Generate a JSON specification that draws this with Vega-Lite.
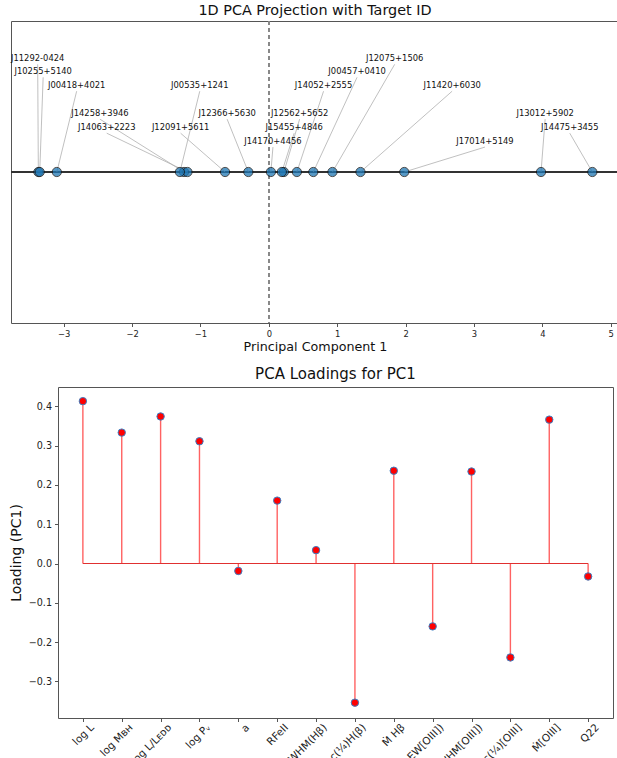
{
  "$schema": "https://vega.github.io/schema/vega-lite/v6.json",
  "padding": {"left": 8, "top": 2, "right": 0, "bottom": 0},
  "background": "white",
  "config": {
    "font": "DejaVu Sans",
    "view": {"stroke": "#555", "strokeWidth": 1},
    "axis": {"grid": false, "domain": false, "tickColor": "#555", "tickSize": 3.5, "labelColor": "#222", "titleColor": "#111", "titleFontWeight": "normal"},
    "title": {"fontWeight": "normal", "color": "#111"}
  },
  "datasets": {
    "proj": [
      {"id": "J11292-0424", "pc1": -3.37, "label_x": -3.38, "label_y": 0.713},
      {"id": "J10255+5140", "pc1": -3.35, "label_x": -3.30, "label_y": 0.627},
      {"id": "J00418+4021", "pc1": -3.10, "label_x": -2.81, "label_y": 0.535},
      {"id": "J14258+3946", "pc1": -1.24, "label_x": -2.47, "label_y": 0.350},
      {"id": "J14063+2223", "pc1": -1.19, "label_x": -2.37, "label_y": 0.257},
      {"id": "J00535+1241", "pc1": -1.30, "label_x": -1.01, "label_y": 0.535},
      {"id": "J12091+5611", "pc1": -0.64, "label_x": -1.29, "label_y": 0.257},
      {"id": "J12366+5630", "pc1": -0.30, "label_x": -0.61, "label_y": 0.350},
      {"id": "J14170+4456", "pc1": 0.03, "label_x": 0.06, "label_y": 0.165},
      {"id": "J12562+5652", "pc1": 0.22, "label_x": 0.45, "label_y": 0.350},
      {"id": "J15455+4846", "pc1": 0.19, "label_x": 0.37, "label_y": 0.257},
      {"id": "J14052+2555", "pc1": 0.41, "label_x": 0.80, "label_y": 0.535},
      {"id": "J00457+0410", "pc1": 0.65, "label_x": 1.29, "label_y": 0.627},
      {"id": "J12075+1506", "pc1": 0.93, "label_x": 1.84, "label_y": 0.713},
      {"id": "J11420+6030", "pc1": 1.34, "label_x": 2.68, "label_y": 0.535},
      {"id": "J17014+5149", "pc1": 1.98, "label_x": 3.16, "label_y": 0.165},
      {"id": "J13012+5902", "pc1": 3.98, "label_x": 4.04, "label_y": 0.350},
      {"id": "J14475+3455", "pc1": 4.73, "label_x": 4.40, "label_y": 0.257}
    ],
    "loadings": [
      {"variable": "log L", "loading": 0.413},
      {"variable": "log Mʙʜ", "loading": 0.333},
      {"variable": "log L/Lᴇᴅᴅ", "loading": 0.374},
      {"variable": "log Pᵥ", "loading": 0.311},
      {"variable": "a", "loading": -0.019},
      {"variable": "RFeII", "loading": 0.160},
      {"variable": "FWHM(Hβ)", "loading": 0.034},
      {"variable": "c(¼)H(β)", "loading": -0.354},
      {"variable": "Ṁ Hβ", "loading": 0.236},
      {"variable": "EW[OIII])", "loading": -0.160},
      {"variable": "FWHM[OIII])", "loading": 0.234},
      {"variable": "c(¼)[OIII]", "loading": -0.239},
      {"variable": "Ṁ[OIII]", "loading": 0.366},
      {"variable": "Q22", "loading": -0.033}
    ]
  },
  "bounds": "flush",
  "spacing": 64,
  "vconcat": [
    {
      "title": {"text": "1D PCA Projection with Target ID", "fontSize": 14.4, "offset": 2},
      "width": 608,
      "height": 302,
      "data": {"name": "proj"},
      "layer": [
        {
          "mark": {"type": "rule", "color": "#888", "strokeDash": [4, 3], "strokeWidth": 1},
          "encoding": {"x": {"datum": 0, "type": "quantitative", "scale": {"domain": [-3.77, 5.12], "nice": false, "zero": false},
              "axis": {"values": [-3, -2, -1, 0, 1, 2, 3, 4, 5], "format": "d", "labelFontSize": 8.4, "title": "Principal Component 1", "titleFontSize": 12.7, "titlePadding": 3, "labelPadding": 3}}}
        },
        {
          "mark": {"type": "rule", "color": "#333", "strokeWidth": 1.2},
          "encoding": {"y": {"datum": 0, "type": "quantitative", "scale": {"domain": [-1, 1], "nice": false}, "axis": null}}
        },
        {
          "mark": {"type": "rule", "color": "#b0b0b0", "strokeWidth": 0.8},
          "encoding": {
            "x": {"field": "label_x", "type": "quantitative"},
            "x2": {"field": "pc1"},
            "y": {"field": "label_y", "type": "quantitative"},
            "y2": {"datum": 0}
          }
        },
        {
          "mark": {"type": "circle", "size": 85, "color": "#1f77b4", "opacity": 0.75, "stroke": "#111", "strokeWidth": 1},
          "encoding": {
            "x": {"field": "pc1", "type": "quantitative"},
            "y": {"datum": 0, "type": "quantitative"}
          }
        },
        {
          "mark": {"type": "text", "fontSize": 8.4, "baseline": "bottom", "align": "center", "color": "#111", "dy": -1},
          "encoding": {
            "x": {"field": "label_x", "type": "quantitative"},
            "y": {"field": "label_y", "type": "quantitative"},
            "text": {"field": "id"}
          }
        }
      ]
    },
    {
      "bounds": "flush",
      "spacing": 0,
      "hconcat": [
        {
          "width": 47,
          "height": 10,
          "view": {"stroke": null},
          "data": {"values": [{}]},
          "mark": {"type": "point", "opacity": 0},
          "encoding": {}
        },
        {
          "title": {"text": "PCA Loadings for PC1", "fontSize": 15, "offset": 5},
          "width": 555,
          "height": 331,
          "data": {"name": "loadings"},
          "encoding": {
            "x": {
              "field": "variable",
              "type": "nominal",
              "sort": null,
              "scale": {"type": "point", "padding": 0.64},
              "axis": {
                "title": null,
                "labelAngle": -45,
                "labelAlign": "right",
                "labelBaseline": "middle",
                "labelFontSize": 10.4,
                "labelPadding": 4,
                "labelOverlap": false,
                "labelOffset": 9
              }
            }
          },
          "layer": [
            {
              "mark": {"type": "bar", "color": "#ff2020", "opacity": 0.7, "size": 1.4},
              "encoding": {
                "y": {
                  "field": "loading",
                  "type": "quantitative",
                  "scale": {"domain": [-0.393, 0.449], "nice": false, "zero": true},
                  "axis": {"values": [-0.3, -0.2, -0.1, 0, 0.1, 0.2, 0.3, 0.4], "format": ".1f", "labelFontSize": 9.6, "title": "Loading (PC1)", "titleFontSize": 14, "titlePadding": 5, "labelPadding": 3}
                }
              }
            },
            {
              "mark": {"type": "line", "color": "#e03030", "strokeWidth": 1.1},
              "encoding": {"y": {"datum": 0, "type": "quantitative"}}
            },
            {
              "mark": {"type": "circle", "size": 55, "color": "red", "opacity": 1, "stroke": "#3b7fc4", "strokeWidth": 1},
              "encoding": {
                "y": {"field": "loading", "type": "quantitative"}
              }
            }
          ]
        }
      ]
    }
  ]
}
